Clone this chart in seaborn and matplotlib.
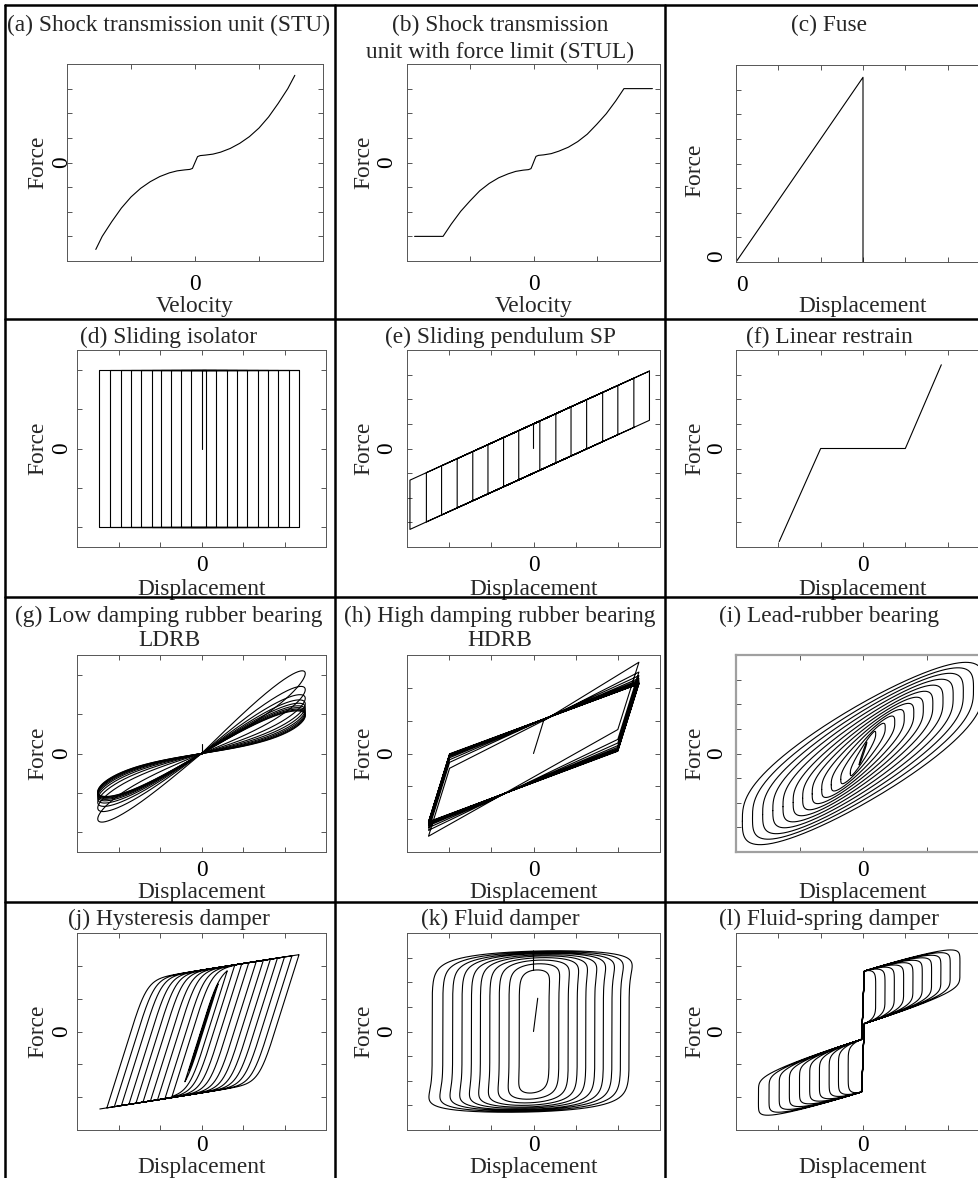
import numpy as np
import pandas as pd
import matplotlib
matplotlib.use("Agg")
import matplotlib.pyplot as plt
import seaborn as sns
from matplotlib.lines import Line2D

sns.set_style("ticks")
plt.rcParams["font.family"] = ["Liberation Serif", "DejaVu Serif"]
FS = 16.8
plt.rcParams["font.size"] = FS

W, H = 979, 1178

# ---------------------------------
# DATA
# ---------------------------------
# (a) STU: force vs velocity
stu_v = [-1.55, -1.45, -1.3, -1.15, -1.0, -0.85, -0.7, -0.55, -0.4, -0.28, -0.16, -0.08, -0.04, -0.02,
         0.02, 0.04, 0.08, 0.16, 0.28, 0.4, 0.55, 0.7, 0.85, 1.0, 1.15, 1.3, 1.45, 1.56]
stu_f = [-3.53, -3.0, -2.4, -1.85, -1.4, -1.05, -0.78, -0.57, -0.42, -0.34, -0.3, -0.28, -0.24, -0.12,
         0.12, 0.24, 0.28, 0.3, 0.34, 0.42, 0.57, 0.78, 1.05, 1.4, 1.85, 2.4, 3.0, 3.54]

# (b) STUL
stul_v = [-1.88, -1.43, -1.3, -1.15, -1.0, -0.85, -0.7, -0.55, -0.4, -0.28, -0.16, -0.08, -0.04, -0.02,
          0.02, 0.04, 0.08, 0.16, 0.28, 0.4, 0.55, 0.7, 0.85, 1.0, 1.15, 1.3, 1.43, 1.88]
stul_f = [-3.0, -3.0, -2.5, -1.98, -1.55, -1.15, -0.85, -0.62, -0.46, -0.36, -0.31, -0.29, -0.25, -0.13,
          0.13, 0.25, 0.29, 0.31, 0.36, 0.46, 0.62, 0.85, 1.15, 1.55, 1.98, 2.5, 3.0, 3.0]

# (c) fuse
fuse_d = [0.0, 3.0, 3.0]
fuse_f = [0.0, 7.5, 0.0]

# (d) sliding isolator: turning displacements and friction force
slide_pos = [0.12, 0.36, 0.61, 0.86, 1.1, 1.35, 1.6, 1.85, 2.1, 2.35]
slide_neg = [-0.25, -0.49, -0.73, -0.97, -1.2, -1.45, -1.7, -1.95, -2.2, -2.46]
slide_mu = 2.0

# (e) sliding pendulum
pend_pos = [0.15, 0.53, 0.89, 1.26, 1.64, 2.0, 2.38, 2.75]
pend_neg = [-0.35, -0.71, -1.08, -1.44, -1.81, -2.18, -2.54, -2.93]
pend_k = 0.78
pend_mu = 1.0

# (f) linear restrain with gap
gap_d = [-1.98, -1.0, 1.0, 1.85]
gap_f = [-3.78, 0.0, 0.0, 3.4]

# (g) LDRB: peak forces of each cycle at +/- amplitude
ldrb_amp = 2.5
ldrb_peak_pos = [2.03, 1.62, 1.4, 1.26, 1.17, 1.1, 1.05, 1.01, 0.98, 0.96]
ldrb_peak_neg = [-1.66, -1.38, -1.24, -1.15, -1.09, -1.05, -1.02, -1.0, -0.98, -0.97]
ldrb_width = 0.55
ldrb_init_d = [0.0, 0.0]
ldrb_init_f = [0.0, 0.24]

# (h) HDRB
hdrb_peak_pos = [2.78, 2.48, 2.37, 2.29, 2.24, 2.2, 2.17, 2.15, 2.13, 2.12]
hdrb_peak_neg = [-2.52, -2.34, -2.26, -2.2, -2.16, -2.13, -2.11, -2.1, -2.09, -2.08]
hdrb_amp_pos, hdrb_amp_neg = 2.5, 2.49
hdrb_knee = 0.5
hdrb_drop_pos, hdrb_drop_neg = 2.05, 2.07
hdrb_init = (0.24, 1.0)

# (i) lead-rubber bearing: loop amplitudes, force at the tips and at zero displacement
lrb_amp = [0.06, 0.2, 0.35, 0.5, 0.65, 0.8, 0.95, 1.1, 1.26, 1.42, 1.58, 1.74, 1.9]
lrb_tip = [0.45, 0.8, 1.05, 1.27, 1.46, 1.64, 1.82, 1.99, 2.16, 2.32, 2.48, 2.62, 2.75]
lrb_mid = [0.08, 0.3, 0.48, 0.65, 0.81, 0.96, 1.11, 1.26, 1.42, 1.58, 1.74, 1.9, 2.07]

# (j) hysteresis damper: turning displacements
hyst_pos = [0.1, 0.2, 0.3, 0.4, 0.62, 0.8, 0.97, 1.14, 1.32, 1.49, 1.66, 1.83, 2.0, 2.18, 2.35]
hyst_neg = [0.1, 0.2, 0.3, 0.4, 0.71, 0.88, 1.06, 1.23, 1.41, 1.58, 1.75, 1.93, 2.1, 2.28, 2.45]

# (k) fluid damper
fluid_pos = [0.38, 0.62, 0.85, 1.07, 1.28, 1.5, 1.71, 1.92, 2.13, 2.34]
fluid_neg = [0.35, 0.6, 0.84, 1.07, 1.3, 1.52, 1.75, 1.98, 2.22, 2.48]
fluid_force = [2.5, 2.75, 2.9, 3.0, 3.07, 3.12, 3.17, 3.2, 3.24, 3.28]
fluid_init_d = [0.0, 0.1]
fluid_init_f = [0.0, 1.35]

# (l) fluid-spring damper
fs_pos = [0.3, 0.52, 0.74, 0.96, 1.18, 1.4, 1.62, 1.84, 2.06, 2.29]
fs_neg = [0.35, 0.58, 0.8, 1.03, 1.26, 1.5, 1.74, 1.98, 2.22, 2.47]
fs_spring_d = [-3.0, -0.03, 0.03, 3.0]
fs_spring_f = [-2.24, -1.04, 1.04, 2.24]
fs_damp = 0.8


# ---------------------------------
# PATH BUILDERS
# ---------------------------------
def frame(xs, fs, seg=0):
    return pd.DataFrame({"x": np.asarray(xs, float), "F": np.asarray(fs, float), "seg": seg})


def friction_path(pos, neg, k, mu):
    xs, fs = [0.0, 0.0], [0.0, mu]
    for p, q in zip(pos, neg):
        xs += [p, p, q, q]
        fs += [k * p + mu, k * p - mu, k * q - mu, k * q + mu]
    xs.append(pos[-1])
    fs.append(k * pos[-1] + mu)
    return xs, fs


def bilinear_path():
    xs, fs = [0.0, hdrb_init[0]], [0.0, hdrb_init[1]]
    for p, n in zip(hdrb_peak_pos, hdrb_peak_neg):
        xs += [hdrb_amp_pos, hdrb_amp_pos - hdrb_knee, -hdrb_amp_neg, -hdrb_amp_neg + hdrb_knee]
        fs += [p, p - hdrb_drop_pos, n, n + hdrb_drop_neg]
    xs.append(hdrb_amp_pos)
    fs.append(hdrb_peak_pos[-1])
    return xs, fs


def hysteretic_loops(turns, k, q, delta, n, steps=600):
    xs = [0.0]
    prev = 0.0
    tau = np.linspace(0, np.pi, steps)[1:]
    for b in turns:
        xs.extend(prev + (b - prev) * (1 - np.cos(tau)) / 2)
        prev = b
    xs = np.asarray(xs)
    z = np.zeros_like(xs)
    for i in range(1, len(xs)):
        dx = xs[i] - xs[i - 1]
        zi = z[i - 1]
        rate = 1 - abs(zi) ** n if dx * zi > 0 else 1.0
        z[i] = min(1.0, max(-1.0, zi + dx / delta * rate))
    return xs, k * xs + q * z


def lrb_frame(p=0.65):
    t = np.linspace(0, 2 * np.pi, 400)
    parts = []
    for i, (a, tip, mid) in enumerate(zip(lrb_amp, lrb_tip, lrb_mid)):
        s = np.sin(t)
        parts.append(frame(-a * np.cos(t), -tip * np.cos(t) + mid * np.sign(s) * np.abs(s) ** p, i))
    return pd.concat(parts)


def ldrb_frame():
    t = np.linspace(0, 2 * np.pi, 500)
    parts = [frame(ldrb_init_d, ldrb_init_f, 0)]
    for i, (p, n) in enumerate(zip(ldrb_peak_pos, ldrb_peak_neg)):
        x = ldrb_amp * np.sin(t)
        slope = np.where(np.sin(t) >= 0, p / ldrb_amp, -n / ldrb_amp)
        f = slope * x + ldrb_width * np.sin(t) * np.cos(t)
        parts.append(frame(x, f, i + 1))
    return pd.concat(parts)


def fluid_frame(phase=0.25, alpha=0.15):
    parts = [frame(fluid_init_d, fluid_init_f, 0)]
    t1 = np.linspace(0, np.pi, 300)
    t2 = np.linspace(np.pi, 2 * np.pi, 300)
    xs, fs = [], []
    for a, b, d in zip(fluid_pos, fluid_neg, fluid_force):
        for amp, t in ((a, t1), (b, t2)):
            c = np.cos(t - phase)
            xs.extend(amp * np.sin(t))
            fs.extend(d * np.sign(c) * np.abs(c) ** alpha)
    parts.append(frame(xs, fs, 1))
    return pd.concat(parts)


def fluid_spring_frame(alpha=0.3):
    t1 = np.linspace(0, np.pi, 400)
    t2 = np.linspace(np.pi, 2 * np.pi, 400)
    xs, fs = [], []
    for a, b in zip(fs_pos, fs_neg):
        for amp, t in ((a, t1), (b, t2)):
            x = amp * np.sin(t)
            c = np.cos(t)
            xs.extend(x)
            fs.extend(np.interp(x, fs_spring_d, fs_spring_f) + fs_damp * np.sign(c) * np.abs(c) ** alpha)
    return frame(xs, fs)


data = {
    "a": frame(stu_v, stu_f),
    "b": frame(stul_v, stul_f),
    "c": frame(fuse_d, fuse_f),
    "d": frame(*friction_path(slide_pos, slide_neg, 0.0, slide_mu)),
    "e": frame(*friction_path(pend_pos, pend_neg, pend_k, pend_mu)),
    "f": frame(gap_d, gap_f),
    "g": ldrb_frame(),
    "h": frame(*bilinear_path()),
    "i": lrb_frame(),
    "j": frame(*hysteretic_loops([v for p, q in zip(hyst_pos, hyst_neg) for v in (p, -q)],
                                 k=0.2, q=1.87, delta=0.49, n=3)),
    "k": fluid_frame(),
    "l": fluid_spring_frame(),
}

# ---------------------------------
# LAYOUT (pixels, top-left origin)
# ---------------------------------
BOX_H = 197
ROWS = {
    1: {"top": 64, "title_y": [31, 58], "tick_pad": 13, "xlab_y": 312},
    2: {"top": 350, "title_y": [343], "tick_pad": 8, "xlab_y": 595},
    3: {"top": 655, "title_y": [622, 646], "tick_pad": 8, "xlab_y": 898},
    4: {"top": 933, "title_y": [925], "tick_pad": 5, "xlab_y": 1173},
}
COLS = {
    1: {"left": 77, "width": 249, "center": 169, "ylab_x": 43, "ytick_x": 67},
    2: {"left": 407, "width": 253, "center": 500, "ylab_x": 369, "ytick_x": 392},
    3: {"left": 736, "width": 254, "center": 829, "ylab_x": 700, "ytick_x": 722},
}
r3 = [-3, -2, -1, 0, 1, 2, 3]
r2 = [-2, -1, 0, 1, 2]
r1 = [-1, 0, 1]
panels = [
    dict(key="a", row=1, col=1, title=["(a) Shock transmission unit (STU)"], xlabel="Velocity",
         xlim=(-2, 2), ylim=(-4, 4), xticks=r1, yticks=r3, left=67, width=256),
    dict(key="b", row=1, col=2, title=["(b) Shock transmission", "unit with force limit (STUL)"],
         xlabel="Velocity", xlim=(-2, 2), ylim=(-4, 4), xticks=r1, yticks=r3),
    dict(key="c", row=1, col=3, title=["(c) Fuse"], xlabel="Displacement",
         xlim=(0, 6), ylim=(0, 8), xticks=[0, 1, 2, 3, 4, 5], yticks=list(range(8)), top=65),
    dict(key="d", row=2, col=1, title=["(d) Sliding isolator"], xlabel="Displacement",
         xlim=(-3, 3), ylim=(-2.5, 2.5), xticks=r2, yticks=r2),
    dict(key="e", row=2, col=2, title=["(e) Sliding pendulum SP"], xlabel="Displacement",
         xlim=(-3, 3), ylim=(-4, 4), xticks=r2, yticks=r3),
    dict(key="f", row=2, col=3, title=["(f) Linear restrain"], xlabel="Displacement",
         xlim=(-3, 3), ylim=(-4, 4), xticks=r2, yticks=r3),
    dict(key="g", row=3, col=1, title=["(g) Low damping rubber bearing", "LDRB"], xlabel="Displacement",
         xlim=(-3, 3), ylim=(-2.5, 2.5), xticks=r2, yticks=r2),
    dict(key="h", row=3, col=2, title=["(h) High damping rubber bearing", "HDRB"], xlabel="Displacement",
         xlim=(-3, 3), ylim=(-3, 3), xticks=r2, yticks=r2),
    dict(key="i", row=3, col=3, title=["(i) Lead-rubber bearing"], xlabel="Displacement",
         xlim=(-2, 2), ylim=(-4, 4), xticks=r1, yticks=r3, spine="#a0a0a0", spine_lw=1.6),
    dict(key="j", row=4, col=1, title=["(j) Hysteresis damper"], xlabel="Displacement",
         xlim=(-3, 3), ylim=(-3, 3), xticks=r2, yticks=r2),
    dict(key="k", row=4, col=2, title=["(k) Fluid damper"], xlabel="Displacement",
         xlim=(-3, 3), ylim=(-4, 4), xticks=r2, yticks=r3),
    dict(key="l", row=4, col=3, title=["(l) Fluid-spring damper"], xlabel="Displacement",
         xlim=(-3, 3), ylim=(-3, 3), xticks=r2, yticks=r2),
]

fig = plt.figure(figsize=(W / 100, H / 100), dpi=100)
PT = 0.72  # points per pixel at 100 dpi

for p in panels:
    row, col = ROWS[p["row"]], COLS[p["col"]]
    left = p.get("left", col["left"])
    width = p.get("width", col["width"])
    top = p.get("top", row["top"])
    ax = fig.add_axes([left / W, 1 - (top + BOX_H) / H, width / W, BOX_H / H])

    sns.lineplot(data=data[p["key"]], x="x", y="F", units="seg", estimator=None, sort=False,
                 color="black", linewidth=0.8, ax=ax, legend=False)

    ax.set_xlim(*p["xlim"])
    ax.set_ylim(*p["ylim"])
    ax.set_xticks(p["xticks"], ["0" if v == 0 else "" for v in p["xticks"]])
    ax.set_yticks(p["yticks"], ["0" if v == 0 else "" for v in p["yticks"]])
    ax.tick_params(axis="both", direction="in", length=3.5, width=0.7, color="#555555",
                   labelcolor="black", top=True, right=True, labelsize=FS)
    ax.tick_params(axis="x", pad=row["tick_pad"] * PT)
    ax.tick_params(axis="y", pad=(left - col["ytick_x"]) * PT)
    for lab in ax.get_yticklabels():
        lab.set_rotation(90)
        lab.set_rotation_mode("anchor")
        lab.set_va("baseline")
        lab.set_ha("left" if p["key"] == "c" else "center")
    if p["key"] == "c":
        for lab in ax.get_xticklabels():
            lab.set_ha("left")

    for sp in ax.spines.values():
        sp.set_color(p.get("spine", "#555555"))
        sp.set_linewidth(p.get("spine_lw", 0.7))

    ax.set_xlabel(p["xlabel"], fontsize=FS, va="baseline")
    ax.xaxis.set_label_coords(0.5, (top + BOX_H - row["xlab_y"]) / BOX_H)
    ax.set_ylabel("Force", fontsize=FS, va="baseline")
    ylab_y = 0.5 if p["key"] != "c" else (top + BOX_H - 170) / BOX_H
    ax.yaxis.set_label_coords((col["ylab_x"] - left) / width, ylab_y)

    for line, ty in zip(p["title"], row["title_y"]):
        fig.text(col["center"] / W, 1 - ty / H, line, ha="center", va="baseline", fontsize=FS)

# ---------------------------------
# TABLE GRID LINES
# ---------------------------------
grid = [((5, 5), (5, H)), ((335, 5), (335, H)), ((665, 5), (665, H)),
        ((5, 5), (W, 5)), ((5, 319), (W, 319)), ((5, 597), (W, 597)), ((5, 902), (W, 902))]
for (x0, y0), (x1, y1) in grid:
    fig.add_artist(Line2D([x0 / W, x1 / W], [1 - y0 / H, 1 - y1 / H], color="black",
                          linewidth=1.8, transform=fig.transFigure))

fig.savefig("out.png", dpi=100)
plt.close(fig)
